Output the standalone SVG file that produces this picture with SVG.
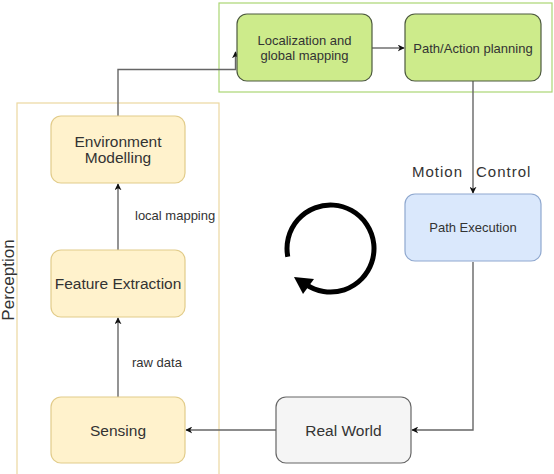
<svg xmlns="http://www.w3.org/2000/svg" width="554" height="474" viewBox="0 0 554 474">
<style>
  text { font-family: "Liberation Sans", Arial, sans-serif; fill: #333333; }
  .yel { fill: #fff2cc; stroke: #e2cc8a; stroke-width: 1.2; }
  .grn { fill: #cdeb8b; stroke: #4d5a3f; stroke-width: 1.2; }
  .blu { fill: #dae8fc; stroke: #8fa8cf; stroke-width: 1.2; }
  .gry { fill: #f5f5f5; stroke: #666666; stroke-width: 1.2; }
  .edge { fill: none; stroke: #666666; stroke-width: 1.4; }
  .lbl { font-size: 13px; }
  .big { font-size: 15.5px; }
</style>
<defs>
  <marker id="arr" viewBox="0 0 10 10" refX="9" refY="5" markerWidth="7" markerHeight="7" markerUnits="userSpaceOnUse" orient="auto">
    <path d="M0,0 L10,5 L0,10 L3,5 Z" fill="#111111"/>
  </marker>
</defs>
<rect width="554" height="474" fill="#ffffff"/>

<g id="containers">
  <rect id="perception-group" x="17" y="103" width="202" height="380" fill="none" stroke="#ecd8a0" stroke-width="1.2"/>
  <text x="0" y="0" transform="translate(13.5,280) rotate(-90)" font-size="17" text-anchor="middle" fill="#444444">Perception</text>
  <rect id="planning-group" x="219" y="3" width="333" height="89" fill="none" stroke="#abd673" stroke-width="1.2"/>
</g>

<g id="connectors">
  <path class="edge" d="M118,116 V69.5 H235.5 V52" marker-end="url(#arr)"/>
  <path class="edge" d="M372,48 H404" marker-end="url(#arr)"/>
  <path class="edge" d="M473,81 V193" marker-end="url(#arr)"/>
  <text font-size="15" letter-spacing="1" fill="#3a3a3a"><tspan x="412" y="177">Motion</tspan><tspan x="476" y="177">Control</tspan></text>
  <path class="edge" d="M473,262 V430 H412" marker-end="url(#arr)"/>
  <path class="edge" d="M276,430 H186" marker-end="url(#arr)"/>
  <path class="edge" d="M118,397 V318" marker-end="url(#arr)"/>
  <text class="lbl" x="132" y="367">raw data</text>
  <path class="edge" d="M118,250 V184" marker-end="url(#arr)"/>
  <text class="lbl" x="135" y="220">local mapping</text>
</g>

<g id="cycle">
  <path d="M287.8,256.8 A43.5,43.5 0 1 1 306.2,284.6" fill="none" stroke="#000000" stroke-width="5"/>
  <polygon points="294,277 303,294 314,279" fill="#000000"/>
</g>

<g id="localization">
  <rect class="grn" x="237" y="14" width="135" height="67" rx="10"/>
  <text class="lbl" x="304.5" y="45" text-anchor="middle">Localization and</text>
  <text class="lbl" x="304.5" y="60" text-anchor="middle">global mapping</text>
</g>

<g id="path-planning">
  <rect class="grn" x="405" y="14" width="136" height="67" rx="10"/>
  <text class="lbl" x="473" y="52.5" text-anchor="middle">Path/Action planning</text>
</g>

<g id="path-execution">
  <rect class="blu" x="405" y="194" width="136" height="67" rx="10"/>
  <text class="lbl" x="473" y="232" text-anchor="middle">Path Execution</text>
</g>

<g id="real-world">
  <rect class="gry" x="276" y="397" width="135" height="66" rx="10"/>
  <text class="big" x="343.5" y="436" text-anchor="middle">Real World</text>
</g>

<g id="sensing">
  <rect class="yel" x="51" y="397" width="134" height="66" rx="10"/>
  <text class="big" x="118" y="436" text-anchor="middle">Sensing</text>
</g>

<g id="feature-extraction">
  <rect class="yel" x="51" y="250" width="134" height="67" rx="10"/>
  <text class="big" x="118" y="289" text-anchor="middle" font-size="15.2">Feature Extraction</text>
</g>

<g id="environment-modelling">
  <rect class="yel" x="51" y="116" width="134" height="67" rx="10"/>
  <text class="big" x="118" y="146.5" text-anchor="middle">Environment</text>
  <text class="big" x="118" y="162.5" text-anchor="middle">Modelling</text>
</g>
</svg>
